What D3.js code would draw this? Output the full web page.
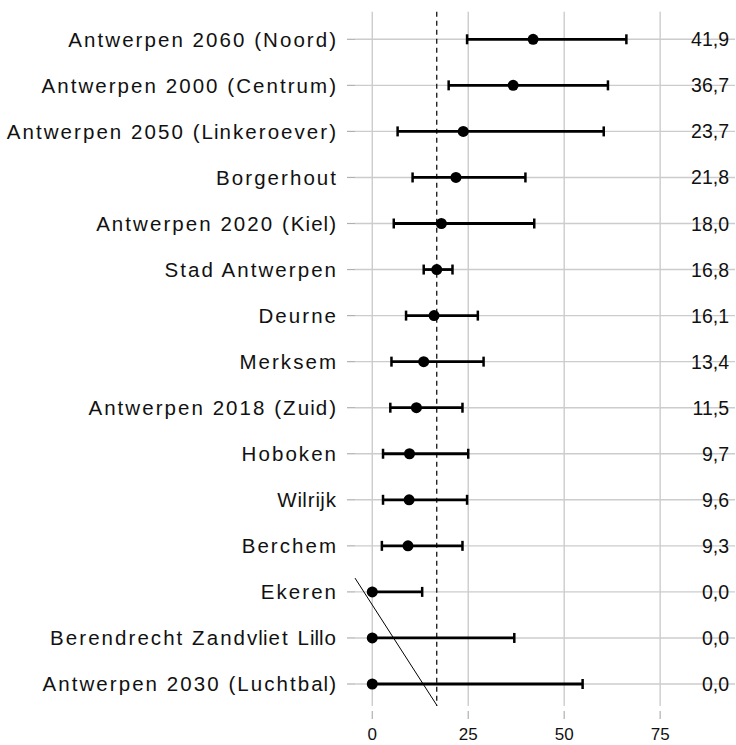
<!DOCTYPE html>
<html>
<head>
<meta charset="utf-8">
<script src="https://cdn.jsdelivr.net/npm/d3@7"></script>
<style>
  html, body { margin: 0; padding: 0; background: #ffffff; }
  svg { display: block; }
  text { font-family: "Liberation Sans", Arial, sans-serif; fill: #111111; }
</style>
</head>
<body>
<svg id="chart" width="736" height="745"></svg>
<script>
// Districts, top to bottom
const categories = [
  "Antwerpen 2060 (Noord)",
  "Antwerpen 2000 (Centrum)",
  "Antwerpen 2050 (Linkeroever)",
  "Borgerhout",
  "Antwerpen 2020 (Kiel)",
  "Stad Antwerpen",
  "Deurne",
  "Merksem",
  "Antwerpen 2018 (Zuid)",
  "Hoboken",
  "Wilrijk",
  "Berchem",
  "Ekeren",
  "Berendrecht Zandvliet Lillo",
  "Antwerpen 2030 (Luchtbal)"
];
// Point estimates
const values = [41.9, 36.7, 23.7, 21.8, 18.0, 16.8, 16.1, 13.4, 11.5, 9.7, 9.6, 9.3, 0.0, 0.0, 0.0];
// Interval bounds
const lower = [24.7, 19.9, 6.6, 10.5, 5.6, 13.4, 8.8, 5.0, 4.7, 2.8, 2.8, 2.5, 0.0, 0.0, 0.0];
const upper = [66.2, 61.4, 60.3, 39.9, 42.2, 20.9, 27.5, 29.0, 23.5, 25.0, 24.7, 23.5, 13.0, 37.0, 54.8];
// City-wide reference value
const cityValue = 16.8;
// Axis ticks
const xTicks = [0, 25, 50, 75];
// Thin guide segment: [x, row position] (row 0 = top category)
const guideX = [-4.5, 16.8];
const guideRow = [11.7, 14.46];

const svg = d3.select("#chart");

const panel = { left: 355, right: 735, top: 11.7, bottom: 706 };

const x = d3.scaleLinear().domain([-4.5, 94.5]).range([panel.left, panel.right]);
const y = d3.scalePoint().domain(categories).range([39.3, 684]);
const rowY = d3.scaleLinear().domain([0, categories.length - 1]).range([39.3, 684]);

const nl = d3.formatLocale({ decimal: ",", thousands: ".", grouping: [3], currency: ["€", ""] });
const fmt = nl.format(".1f");

const rows = categories.map((c, i) => ({ cat: c, v: values[i], lo: lower[i], hi: upper[i] }));

// Wide-tracked label text: slim glyphs (i, l, j) get no extra tracking
const slim = new Set(["i", "l", "j"]);
const track = 2.05;
function trackedDx(s) {
  const ch = Array.from(s);
  return ch.map((c, k) => {
    if (k === 0) return 0;
    const prev = slim.has(ch[k - 1]) ? 0 : track / 2;
    const cur = slim.has(c) ? 0 : track / 2;
    return +(prev + cur).toFixed(3);
  }).join(" ");
}

// Grid
const grid = svg.append("g");
grid.selectAll("line.vg").data(xTicks).join("line")
  .attr("x1", d => x(d)).attr("x2", d => x(d))
  .attr("y1", panel.top).attr("y2", panel.bottom)
  .attr("stroke", "#cccccc").attr("stroke-width", 1.4);
grid.selectAll("line.hg").data(categories).join("line")
  .attr("x1", panel.left).attr("x2", panel.right)
  .attr("y1", d => y(d)).attr("y2", d => y(d))
  .attr("stroke", "#cccccc").attr("stroke-width", 1.4);

// Y axis ticks and labels
const yAxis = svg.append("g");
yAxis.selectAll("line").data(categories).join("line")
  .attr("x1", 347).attr("x2", 355)
  .attr("y1", d => y(d)).attr("y2", d => y(d))
  .attr("stroke", "#b0b0b0").attr("stroke-width", 1.2);
yAxis.selectAll("text").data(categories).join("text")
  .attr("x", 336).attr("y", d => y(d) + 7.4)
  .attr("dx", d => trackedDx(d))
  .attr("text-anchor", "end")
  .style("font-size", "20.5px")
  .text(d => d);

// X axis ticks and labels
const xAxis = svg.append("g");
xAxis.selectAll("line").data(xTicks).join("line")
  .attr("x1", d => x(d)).attr("x2", d => x(d))
  .attr("y1", 711).attr("y2", 719)
  .attr("stroke", "#b0b0b0").attr("stroke-width", 1.2);
xAxis.selectAll("text").data(xTicks).join("text")
  .attr("x", d => x(d)).attr("y", 740)
  .attr("text-anchor", "middle")
  .style("font-size", "17px")
  .text(d => d);

// Reference line at city level
svg.append("line")
  .attr("x1", x(cityValue)).attr("x2", x(cityValue))
  .attr("y1", panel.top).attr("y2", panel.bottom)
  .attr("stroke", "#000").attr("stroke-width", 1.2)
  .attr("stroke-dasharray", "5,4");

// Guide segment
svg.append("line")
  .attr("x1", x(guideX[0])).attr("y1", rowY(guideRow[0]))
  .attr("x2", x(guideX[1])).attr("y2", rowY(guideRow[1]))
  .attr("stroke", "#000").attr("stroke-width", 1);

// Intervals
const marks = svg.append("g");
marks.selectAll("line.bar").data(rows).join("line")
  .attr("x1", d => x(d.lo)).attr("x2", d => x(d.hi))
  .attr("y1", d => y(d.cat)).attr("y2", d => y(d.cat))
  .attr("stroke", "#000").attr("stroke-width", 2.8);
marks.selectAll("line.capl").data(rows).join("line")
  .attr("x1", d => x(d.lo)).attr("x2", d => x(d.lo))
  .attr("y1", d => y(d.cat) - 5).attr("y2", d => y(d.cat) + 5)
  .attr("stroke", "#000").attr("stroke-width", 2.5);
marks.selectAll("line.capr").data(rows).join("line")
  .attr("x1", d => x(d.hi)).attr("x2", d => x(d.hi))
  .attr("y1", d => y(d.cat) - 5).attr("y2", d => y(d.cat) + 5)
  .attr("stroke", "#000").attr("stroke-width", 2.5);
marks.selectAll("circle").data(rows).join("circle")
  .attr("cx", d => x(d.v)).attr("cy", d => y(d.cat))
  .attr("r", 5.5).attr("fill", "#000");

// Value labels
svg.append("g").selectAll("text").data(rows).join("text")
  .attr("x", 729).attr("y", d => y(d.cat)).attr("dy", "0.36em")
  .attr("text-anchor", "end")
  .style("font-size", "19.5px")
  .text(d => fmt(d.v));
</script>
</body>
</html>
